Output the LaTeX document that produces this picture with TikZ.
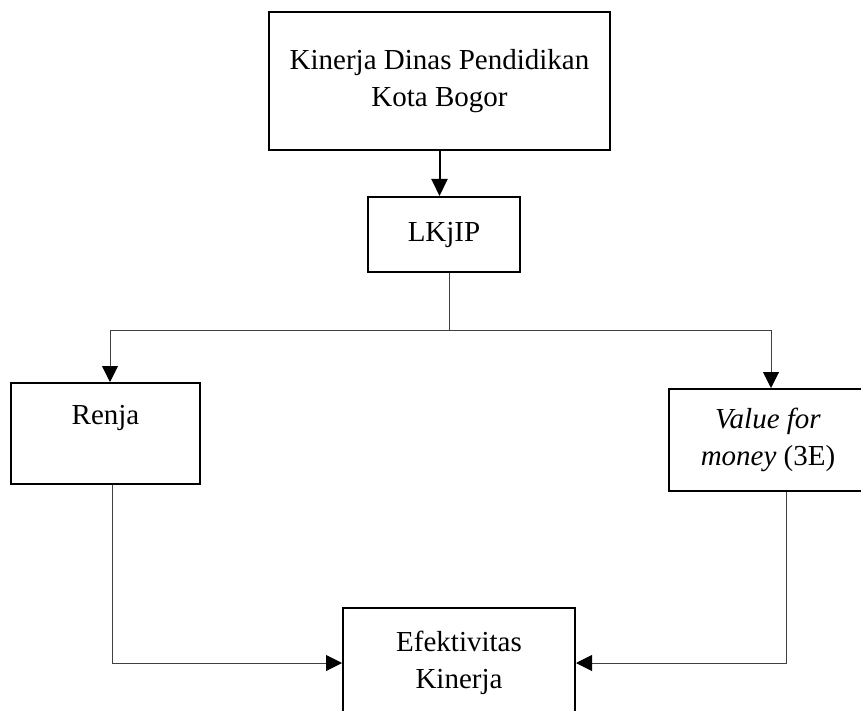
\documentclass[tikz,border=0pt]{standalone}
\usepackage{fontspec}
\setmainfont{Liberation Serif}
\usetikzlibrary{arrows.meta}
\begin{document}
\begin{tikzpicture}[x=1pt,y=-1pt,
  font=\fontsize{29}{37}\selectfont,
  box/.style={draw,line width=2pt,align=center,inner sep=0pt},
  link/.style={draw,black!75,line width=1pt,
    -{Triangle[width=16pt,length=16pt,black]}},
  plain/.style={draw,black!75,line width=1pt},
  bold link/.style={draw,line width=2pt,
    -{Triangle[width=16pt,length=17pt]}}]
\useasboundingbox (0,0) rectangle (861,711);
\clip (0,0) rectangle (861,711);
\node[box,minimum width=341pt,minimum height=138pt] (kinerja) at (439.5,81)
  {Kinerja Dinas Pendidikan\\Kota Bogor};
\node[box,minimum width=152pt,minimum height=75pt] (lkjip) at (444,234.5) {LKjIP};
\node[box,minimum width=189pt,minimum height=101pt] (renja) at (105.5,433.5)
  {Renja\\\mbox{}};
\node[box,minimum width=198pt,minimum height=102pt] (value) at (768,440)
  {\textit{Value for}\\\textit{money} (3E)};
\node[box,minimum width=232pt,minimum height=110pt] (eff) at (459,663)
  {Efektivitas\\Kinerja};
\coordinate (split) at (449,330);
\draw[bold link] (kinerja.south) -- (kinerja.south |- lkjip.north);
\draw[plain] (split |- lkjip.south) -- (split);
\draw[link] (split) -| ([xshift=4.5pt]renja.north);
\draw[link] (split) -| ([xshift=3pt]value.north);
\draw[link] ([xshift=6.5pt]renja.south) |- (eff.west);
\draw[link] ([xshift=18pt]value.south) |- (eff.east);
\end{tikzpicture}
\end{document}
